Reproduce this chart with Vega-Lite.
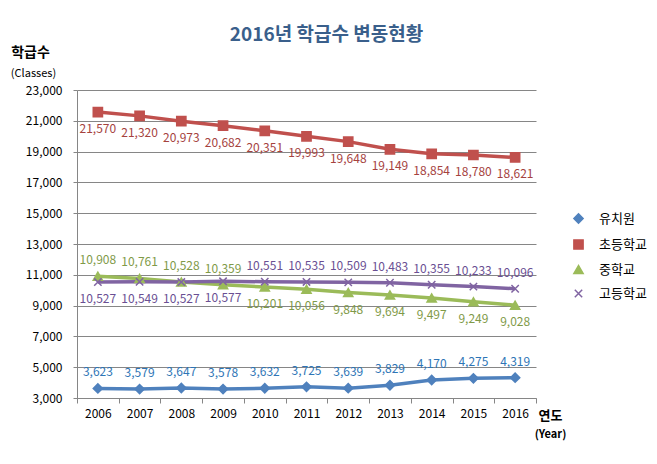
{
  "$schema": "https://vega.github.io/schema/vega-lite/v6.json",
  "width": 459,
  "height": 308,
  "autosize": "none",
  "padding": {"left": 77, "top": 90, "right": 121, "bottom": 66},
  "background": "white",
  "title": {"text": "2016년 학급수 변동현황", "font": "Noto Sans CJK KR", "fontSize": 19, "fontWeight": "bold", "color": "#3A5F8B", "anchor": "middle", "dx": 20, "offset": 0},
  "config": {
    "font": "Noto Sans CJK KR",
    "view": {"stroke": null},
    "axis": {"labelFont": "Noto Sans CJK KR", "titleFont": "Noto Sans CJK KR", "labelColor": "#000000", "titleColor": "#000000", "domainColor": "#868686", "tickColor": "#868686", "gridColor": "#868686"}
  },
  "data": {"values": [
    {"year": "2006", "series": "유치원", "value": 3623},
    {"year": "2007", "series": "유치원", "value": 3579},
    {"year": "2008", "series": "유치원", "value": 3647},
    {"year": "2009", "series": "유치원", "value": 3578},
    {"year": "2010", "series": "유치원", "value": 3632},
    {"year": "2011", "series": "유치원", "value": 3725},
    {"year": "2012", "series": "유치원", "value": 3639},
    {"year": "2013", "series": "유치원", "value": 3829},
    {"year": "2014", "series": "유치원", "value": 4170},
    {"year": "2015", "series": "유치원", "value": 4275},
    {"year": "2016", "series": "유치원", "value": 4319},
    {"year": "2006", "series": "초등학교", "value": 21570},
    {"year": "2007", "series": "초등학교", "value": 21320},
    {"year": "2008", "series": "초등학교", "value": 20973},
    {"year": "2009", "series": "초등학교", "value": 20682},
    {"year": "2010", "series": "초등학교", "value": 20351},
    {"year": "2011", "series": "초등학교", "value": 19993},
    {"year": "2012", "series": "초등학교", "value": 19648},
    {"year": "2013", "series": "초등학교", "value": 19149},
    {"year": "2014", "series": "초등학교", "value": 18854},
    {"year": "2015", "series": "초등학교", "value": 18780},
    {"year": "2016", "series": "초등학교", "value": 18621},
    {"year": "2006", "series": "중학교", "value": 10908},
    {"year": "2007", "series": "중학교", "value": 10761},
    {"year": "2008", "series": "중학교", "value": 10528},
    {"year": "2009", "series": "중학교", "value": 10359},
    {"year": "2010", "series": "중학교", "value": 10201},
    {"year": "2011", "series": "중학교", "value": 10056},
    {"year": "2012", "series": "중학교", "value": 9848},
    {"year": "2013", "series": "중학교", "value": 9694},
    {"year": "2014", "series": "중학교", "value": 9497},
    {"year": "2015", "series": "중학교", "value": 9249},
    {"year": "2016", "series": "중학교", "value": 9028},
    {"year": "2006", "series": "고등학교", "value": 10527},
    {"year": "2007", "series": "고등학교", "value": 10549},
    {"year": "2008", "series": "고등학교", "value": 10527},
    {"year": "2009", "series": "고등학교", "value": 10577},
    {"year": "2010", "series": "고등학교", "value": 10551},
    {"year": "2011", "series": "고등학교", "value": 10535},
    {"year": "2012", "series": "고등학교", "value": 10509},
    {"year": "2013", "series": "고등학교", "value": 10483},
    {"year": "2014", "series": "고등학교", "value": 10355},
    {"year": "2015", "series": "고등학교", "value": 10233},
    {"year": "2016", "series": "고등학교", "value": 10096}
  ]},
  "layer": [
    {
      "mark": {"type": "line", "strokeWidth": 3.5},
      "encoding": {
        "x": {"field": "year", "type": "ordinal", "scale": {"type": "band", "paddingInner": 0, "paddingOuter": 0},
          "axis": {"title": "연도", "titleFontSize": 13, "titleFontWeight": "bold", "titleX": 473, "titleY": 17, "titleAlign": "center", "titleBaseline": "middle", "labelAngle": 0, "labelFontSize": 12, "labelPadding": 5, "tickSize": 5, "tickBand": "extent", "grid": false}},
        "y": {"field": "value", "type": "quantitative", "scale": {"domain": [3000, 23000], "nice": false, "zero": false},
          "axis": {"title": "학급수", "titleFontSize": 14, "titleFontWeight": "bold", "titleAngle": 0, "titleX": -47, "titleY": -38, "titleAlign": "center", "titleBaseline": "middle", "values": [3000, 5000, 7000, 9000, 11000, 13000, 15000, 17000, 19000, 21000, 23000], "format": ",d", "labelFontSize": 12, "labelPadding": 11, "tickSize": 4, "grid": true}},
        "color": {"field": "series", "type": "nominal", "scale": {"domain": ["유치원", "초등학교", "중학교", "고등학교"], "range": ["#4F81BD", "#C0504D", "#9BBB59", "#8064A2"]},
          "legend": {"orient": "none", "legendX": 495, "legendY": 122, "title": null, "labelFontSize": 13, "labelColor": "#000000", "symbolSize": 85, "rowPadding": 9, "labelOffset": 14}},
        "detail": {"field": "series"}
      }
    },
    {
      "mark": {"type": "point", "filled": true, "size": 85, "strokeWidth": 1.5, "opacity": 1},
      "encoding": {
        "x": {"field": "year", "type": "ordinal", "axis": null},
        "y": {"field": "value", "type": "quantitative", "axis": null},
        "color": {"field": "series", "type": "nominal",
          "legend": {"orient": "none", "legendX": 495, "legendY": 122, "title": null, "labelFontSize": 13, "labelColor": "#000000", "symbolSize": 85, "rowPadding": 9, "labelOffset": 14}},
        "stroke": {"field": "series", "type": "nominal", "scale": {"domain": ["유치원", "초등학교", "중학교", "고등학교"], "range": ["#4F81BD", "#C0504D", "#9BBB59", "#8064A2"]},
          "legend": {"orient": "none", "legendX": 495, "legendY": 122, "title": null, "labelFontSize": 13, "labelColor": "#000000", "symbolSize": 85, "rowPadding": 9, "labelOffset": 14}},
        "shape": {"field": "series", "type": "nominal", "scale": {"domain": ["유치원", "초등학교", "중학교", "고등학교"], "range": ["diamond", "square", "triangle-up", "M-0.8,-0.8L0.8,0.8M0.8,-0.8L-0.8,0.8"]},
          "legend": {"orient": "none", "legendX": 495, "legendY": 122, "title": null, "labelFontSize": 13, "labelColor": "#000000", "symbolSize": 85, "rowPadding": 9, "labelOffset": 14}}
      }
    },
    {
      "transform": [{"filter": "datum.series === '유치원' || (datum.series === '중학교' && +datum.year <= 2009) || (datum.series === '고등학교' && +datum.year >= 2010)"}],
      "mark": {"type": "text", "dy": -16, "fontSize": 12, "baseline": "middle"},
      "encoding": {
        "x": {"field": "year", "type": "ordinal", "axis": null},
        "y": {"field": "value", "type": "quantitative", "axis": null},
        "text": {"field": "value", "type": "quantitative", "format": ","},
        "fill": {"field": "series", "type": "nominal", "scale": {"domain": ["유치원", "초등학교", "중학교", "고등학교"], "range": ["#2E75B6", "#A5423E", "#7F9A48", "#6A4F93"]}, "legend": null}
      }
    },
    {
      "transform": [{"filter": "!(datum.series === '유치원' || (datum.series === '중학교' && +datum.year <= 2009) || (datum.series === '고등학교' && +datum.year >= 2010))"}],
      "mark": {"type": "text", "dy": 17, "fontSize": 12, "baseline": "middle"},
      "encoding": {
        "x": {"field": "year", "type": "ordinal",
          "axis": {"title": "(Year)", "titleFontSize": 11, "titleFontWeight": "bold", "titleX": 473, "titleY": 36, "titleAlign": "center", "titleBaseline": "middle", "labels": false, "ticks": false, "domain": false, "grid": false, "orient": "bottom"}},
        "y": {"field": "value", "type": "quantitative",
          "axis": {"title": "(Classes)", "titleFontSize": 11, "titleFontWeight": "normal", "titleAngle": 0, "titleX": -44, "titleY": -17, "titleAlign": "center", "titleBaseline": "middle", "labels": false, "ticks": false, "domain": false, "grid": false, "orient": "left"}},
        "text": {"field": "value", "type": "quantitative", "format": ","},
        "fill": {"field": "series", "type": "nominal", "scale": {"domain": ["유치원", "초등학교", "중학교", "고등학교"], "range": ["#2E75B6", "#A5423E", "#7F9A48", "#6A4F93"]}, "legend": null}
      }
    }
  ],
  "resolve": {"axis": {"x": "independent", "y": "independent"}}
}
